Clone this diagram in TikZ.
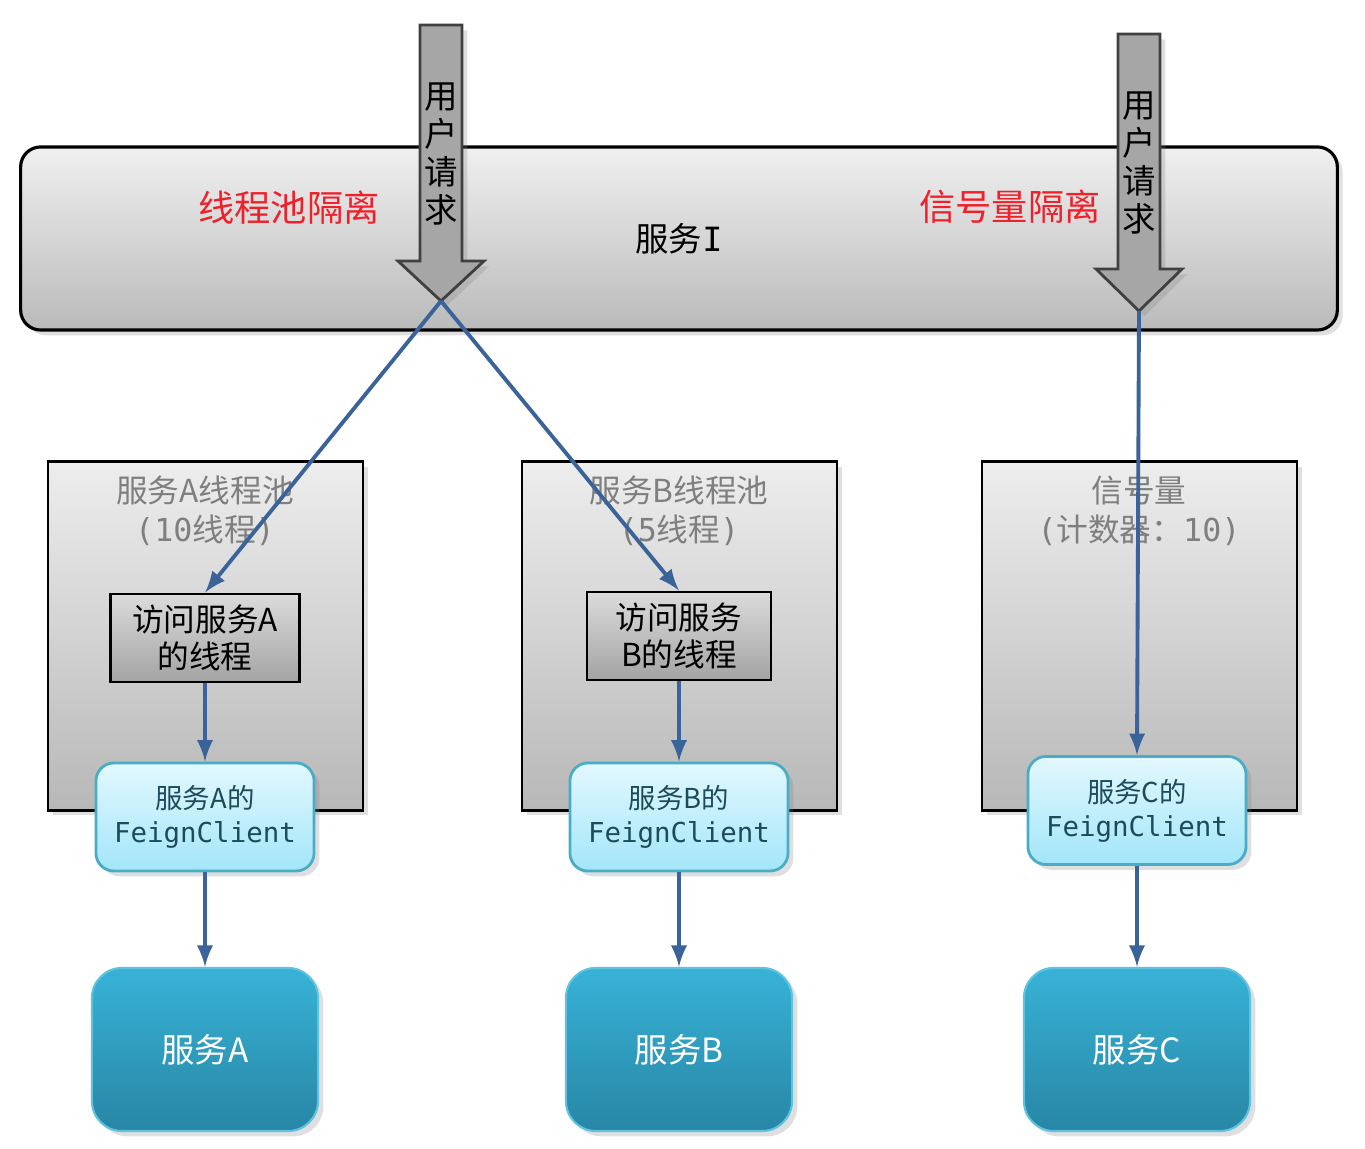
\documentclass[tikz,border=0pt]{standalone}
\usepackage{fontspec}
\setmainfont{Noto Sans CJK SC}
\setmonofont{DejaVu Sans Mono}
\usetikzlibrary{shadows}
\definecolor{conncol}{HTML}{3A6399}
\definecolor{redlbl}{HTML}{F0202A}
\definecolor{graytxt}{HTML}{7F7F7F}
\definecolor{feignline}{HTML}{4BACC6}
\definecolor{feigntop}{HTML}{E3F8FE}
\definecolor{feignbot}{HTML}{A2E6F9}
\definecolor{feigntxt}{HTML}{1D4B5C}
\definecolor{svctop}{HTML}{37B3D7}
\definecolor{svcbot}{HTML}{2886A5}
\tikzset{
  softshadow/.style={drop shadow={opacity=0.25,shadow xshift=1.5pt,shadow yshift=-1.5pt}},
  mainbox/.style={draw, line width=0.9pt, rounded corners=0.2cm, top color=black!6, bottom color=black!27,
    minimum width=13.16cm, minimum height=1.83cm, inner sep=0pt, softshadow,
    font=\fontsize{9.5}{11}\selectfont},
  reqarrow/.style={draw=black!75, line width=0.8pt, fill=black!35, softshadow},
  reqtext/.style={align=center, inner sep=0pt, font=\fontsize{9.5}{10.8}\selectfont},
  redtext/.style={text=redlbl, inner sep=0pt, font=\fontsize{10.3}{12}\selectfont},
  poolbox/.style={draw, line width=0.8pt, top color=black!7, bottom color=black!28,
    minimum width=3.15cm, minimum height=3.48cm, inner sep=0pt, softshadow},
  pooltitle/.style={text=graytxt, align=center, inner sep=0pt, font=\fontsize{9}{11}\selectfont},
  thrbox/.style={draw, line width=0.8pt, top color=black!14, bottom color=black!36,
    minimum height=0.88cm, inner sep=0pt, align=center, font=\fontsize{9}{10.5}\selectfont},
  feignbox/.style={draw=feignline, line width=0.8pt, rounded corners=0.18cm,
    top color=feigntop, bottom color=feignbot, text=feigntxt,
    minimum width=2.18cm, minimum height=1.08cm, inner sep=0pt, align=center,
    font=\fontsize{7.8}{9.7}\selectfont, softshadow},
  svcbox/.style={draw=svctop!80!white, line width=0.6pt, rounded corners=0.3cm,
    top color=svctop, bottom color=svcbot, text=white,
    minimum width=2.26cm, minimum height=1.63cm, inner sep=0pt,
    font=\fontsize{9.5}{11}\selectfont, softshadow},
  conn/.style={->, draw=conncol, line width=1.1pt}
}
\begin{document}
\begin{tikzpicture}[>=latex, x=0.01cm, y=-0.01cm]
    \useasboundingbox (0,0) rectangle (1365,1149);
    % service I begin
    \node[mainbox] (svcI) at (679,238.5) {服务\texttt{I}};
    \node[redtext] (tpLbl) at (289,208) {线程池隔离};
    \node[redtext] (semLbl) at (1010,207) {信号量隔离};
    % service I end
    % user request arrows begin
    \draw[reqarrow] (420,25)--(462,25)--(462,261)--(484,261)--(441,301)--(398,261)--(420,261)--cycle;
    \coordinate (tip1) at (441,301);
    \node[reqtext] (req1) at (441,154) {用\\户\\请\\求};
    \draw[reqarrow] (1118,34)--(1160,34)--(1160,269)--(1182,269)--(1139,311)--(1096,269)--(1118,269)--cycle;
    \coordinate (tip2) at (1139,311);
    \node[reqtext] (req2) at (1139,163) {用\\户\\请\\求};
    % user request arrows end
    % pools begin
    \node[poolbox] (poolA) at (205.5,636) {};
    \node[poolbox] (poolB) at (679.5,636) {};
    \node[poolbox] (poolC) at (1139.5,636) {};
    \node[pooltitle] (titA) at (205,511) {服务A线程池\\\texttt{(10}线程\texttt{)}};
    \node[pooltitle] (titB) at (679,511) {服务B线程池\\\texttt{(5}线程\texttt{)}};
    \node[pooltitle] (titC) at (1139,511) {信号量\\\texttt{(}计数器：\texttt{10)}};
    % pools end
    \node[thrbox, minimum width=1.89cm] (thrA) at (205,638) {访问服务A\\的线程};
    \node[thrbox, minimum width=1.84cm] (thrB) at (679,636) {访问服务\\B的线程};
    \node[feignbox] (feignA) at (205,817) {服务A的\\\texttt{FeignClient}};
    \node[feignbox] (feignB) at (679,817) {服务B的\\\texttt{FeignClient}};
    \node[feignbox] (feignC) at (1137,810.5) {服务C的\\\texttt{FeignClient}};
    \node[svcbox] (svcA) at (205,1049.5) {服务A};
    \node[svcbox] (svcB) at (679,1049.5) {服务B};
    \node[svcbox] (svcC) at (1137,1049.5) {服务C};
    % connectors
    \draw[conn] (tip1) -- (thrA.north);
    \draw[conn] (tip1) -- (thrB.north);
    \draw[conn] (tip2) -- (feignC.north);
    \draw[conn] (thrA) -- (feignA);
    \draw[conn] (thrB) -- (feignB);
    \draw[conn] (feignA) -- (svcA);
    \draw[conn] (feignB) -- (svcB);
    \draw[conn] (feignC) -- (svcC);
\end{tikzpicture}
\end{document}
